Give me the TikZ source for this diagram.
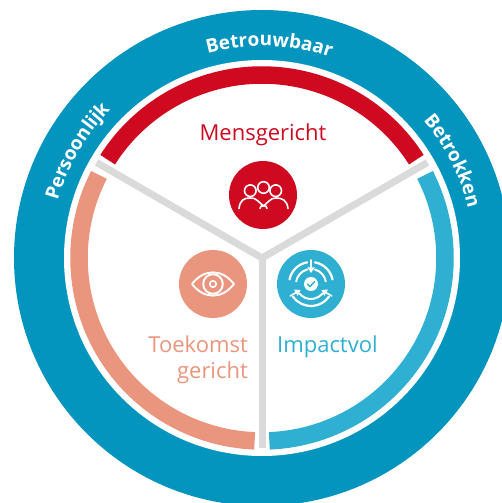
\documentclass[tikz,border=0pt]{standalone}
\usepackage{fontspec}
\setmainfont{Open Sans}
\usetikzlibrary{decorations.text,arrows.meta}
\definecolor{ringblue}{HTML}{0495BF}
\definecolor{mred}{HTML}{CF0A20}
\definecolor{mcoral}{HTML}{EA967E}
\definecolor{mblue}{HTML}{2FB0D2}
\definecolor{spoke}{HTML}{DADADA}
\tikzset{
  x=1pt,y=1pt,
  band/.style={line width=17.5pt,line cap=butt},
  spokeline/.style={draw=spoke,line width=7pt,line cap=butt},
  badge/.style={circle,minimum size=68pt,inner sep=0pt},
  lbl/.style={font=\fontsize{22}{26}\selectfont,inner sep=0pt},
  icon/.style={draw=white,line width=1.6pt,line cap=round,line join=round},
  iconarrow/.style={icon,-{Triangle[length=5.5pt,width=7pt]}},
}
\newcommand{\ringtext}[4]{%
  \path[decorate,decoration={text along path,text align=center,
    text={|\fontsize{19}{22}\selectfont\bfseries\color{white}|#1}}]
    (#2:#4) arc[start angle=#2,end angle=#3,radius=#4];}
\begin{document}
\begin{tikzpicture}
\useasboundingbox (-262,-245) rectangle (240,258);
\begin{scope}
\clip (-262,-245) rectangle (240,258);
\fill[ringblue] (0,0) circle[radius=248];
\fill[white] (0,0) circle[radius=198];
\draw[band,draw=mred] (147.5:183) arc[start angle=147.5,end angle=32.5,radius=183];
\draw[band,draw=mcoral] (153:183) arc[start angle=153,end angle=267.7,radius=183];
\draw[band,draw=mblue] (27:183) arc[start angle=27,end angle=-87.7,radius=183];
\end{scope}
\coordinate (hub) at (0,0);
\coordinate (spokeL) at (150:191);
\coordinate (spokeR) at (30:191);
\coordinate (spokeD) at (0,-190);
\draw[spokeline,line join=miter] (spokeL) -- (hub) -- (spokeR);
\draw[spokeline] ([yshift=3pt]hub) -- (spokeD);
\ringtext{Betrouwbaar}{112}{64}{212}
\ringtext{Persoonlijk}{180}{120}{212}
\ringtext{Betrokken}{57}{-3}{212}
\node[lbl,text=mred] (tm) at (1,123) {Mensgericht};
\node[lbl,text=mcoral,align=right,anchor=east] (tt) at (-14,-102) {Toekomst\\gericht};
\node[lbl,text=mblue,anchor=west] (ti) at (15,-89) {Impactvol};
\node[badge,fill=mred] (bm) at (1,63) {};
\node[badge,fill=mcoral] (bt) at (-49,-26) {};
\node[badge,fill=mblue] (bi) at (49,-26) {};
% people icon
\begin{scope}[shift={(bm)}]
\draw[icon] (-12.7,4.3) circle[radius=5.8];
\draw[icon] (12.7,4.3) circle[radius=5.8];
\draw[icon,fill=mred] (0.5,7.5) circle[radius=5.8];
\draw[icon] (-24,-13.5) .. controls (-23,-5) and (-19,-3) .. (-13,-3) .. controls (-9,-3) and (-7,-4) .. (-5,-6) .. controls (-3,-8) and (-2,-9) .. (0.5,-11) .. controls (3,-9) and (4,-8) .. (6,-6) .. controls (8,-4) and (10,-3) .. (13,-3) .. controls (19,-3) and (24,-5) .. (25,-13.5);
\draw[icon] (-3,-13.5) .. controls (-3,-11) and (-1,-10) .. (0.5,-11);
\draw[icon] (4,-13.5) .. controls (4,-11) and (2,-10) .. (0.5,-11);
\end{scope}
% eye icon
\begin{scope}[shift={(bt)}]
\draw[icon,line width=1.9pt] (-21,0) .. controls (-9,15.5) and (9,15.5) .. (21,0) .. controls (9,-15.5) and (-9,-15.5) .. (-21,0) -- cycle;
\draw[icon,line width=1.9pt] (0,0) circle[radius=9.8];
\draw[icon] (0,0) circle[radius=3.2];
\end{scope}
% target icon
\begin{scope}[shift={(bi)}]
\draw[icon,line width=2.2pt] (100:22) arc[start angle=100,end angle=168,radius=22];
\draw[icon,line width=2.2pt] (80:22) arc[start angle=80,end angle=12,radius=22];
\draw[icon,line width=2.2pt] (-145:22) arc[start angle=-145,end angle=-35,radius=22];
\draw[icon,line width=2pt] (105:15) arc[start angle=105,end angle=170,radius=15];
\draw[icon,line width=2pt] (75:15) arc[start angle=75,end angle=10,radius=15];
\draw[icon,line width=2pt] (-140:15) arc[start angle=-140,end angle=-40,radius=15];
\draw[iconarrow] (90:24) -- (90:11);
\draw[iconarrow] (-150:24) -- (-150:12);
\draw[iconarrow] (-30:24) -- (-30:12);
\fill[white] (0,0) circle[radius=7];
\draw[draw=mblue,line width=1.4pt,line cap=round,line join=round] (-3.5,0) -- (-1,-2.6) -- (3.7,2.4);
\end{scope}
\end{tikzpicture}
\end{document}
